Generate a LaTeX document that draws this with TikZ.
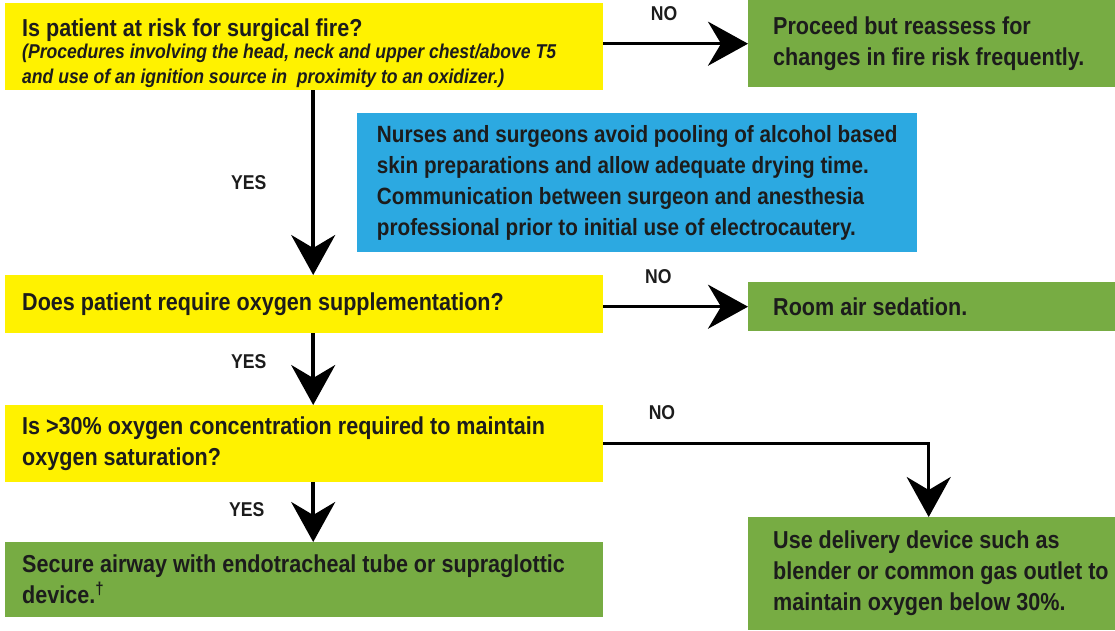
\documentclass[tikz,border=0pt]{standalone}
\usepackage{fontspec}
\setmainfont[FakeStretch=0.88]{Liberation Sans}
\usepackage{xcolor}
\usetikzlibrary{positioning}
\usetikzlibrary{arrows.meta}
\definecolor{askyellow}{HTML}{FFF200}
\definecolor{actgreen}{HTML}{77AC43}
\definecolor{noteblue}{HTML}{2CA9E1}
\definecolor{ink}{HTML}{1C1C1C}
\newcommand{\boxfont}{\fontsize{24.5}{31}\selectfont\bfseries}
\newcommand{\notefont}{\fontsize{20}{25.5}\selectfont\bfseries\itshape}
\newcommand{\bluefont}{\fontsize{23.5}{31}\selectfont\bfseries}
\newcommand{\lblfont}{\fontsize{20}{23}\selectfont\bfseries}
\tikzset{
  % Plain word spacing inside all boxes
  tight/.style={execute at begin node={\spaceskip=0pt\xspaceskip=0pt}},
  % A yes/no question
  question/.style={
    fill=askyellow, rectangle, anchor=north west, align=left, text=ink, tight,
    font=\boxfont, inner xsep=17pt, inner ysep=0pt, text width=#1},
  % An action to take
  action/.style={
    fill=actgreen, rectangle, anchor=north west, align=left, text=ink, tight,
    font=\boxfont, inner xsep=17pt, inner ysep=0pt, text width=#1},
  % A side note (its lines are broken by hand)
  note/.style={
    fill=noteblue, rectangle, anchor=north west, align=left, text=ink,
    font=\bluefont, inner xsep=16pt, inner ysep=0pt, minimum width=#1},
  % Connectors
  flow/.style={-{Stealth[length=40pt, width=44pt, inset=13pt]},
    draw=black, line width=3.5pt},
  lbl/.style={font=\lblfont, text=ink, inner sep=1pt},
}

\begin{document}
\begin{tikzpicture}[x=1pt, y=1pt]
  \useasboundingbox (0,0) rectangle (1115,-630);

  % --- Questions -------------------------------------------------------
  \node[question=564pt, minimum height=87pt] (risk) at (5,-3)
    {\rule{0pt}{31pt}Is patient at risk for surgical fire?\par\vskip-4pt
     {\notefont (Procedures involving the head, neck and upper chest/above T5\\
      and use of an ignition source in\ \ proximity to an oxidizer.)\par}};
  \node[question=564pt, minimum height=58pt] (oxy) at (5,-275)
    {Does patient require oxygen supplementation?};
  \node[question=564pt, minimum height=77pt] (conc) at (5,-405)
    {Is >30\% oxygen concentration required to maintain\\
     oxygen saturation?};

  % --- Actions ---------------------------------------------------------
  \node[action=317pt, inner xsep=25pt, minimum height=87pt] (proceed) at (748,0)
    {Proceed but reassess for\\ changes in fire risk frequently.};
  \node[action=317pt, inner xsep=25pt, minimum height=49pt] (roomair) at (748,-282)
    {Room air sedation.};
  \node[action=564pt, minimum height=75pt] (airway) at (5,-542)
    {Secure airway with endotracheal tube or supraglottic\\
     device.\textsuperscript{\dag}};
  \node[action=317pt, inner xsep=25pt, minimum height=113pt] (device) at (748,-517)
    {Use delivery device such as\\ \mbox{blender or common gas outlet to}\\
     maintain oxygen below 30\%.};

  % --- Note --------------------------------------------------------------
  \node[note=560pt, minimum height=139pt] (prep) at (357,-113)
    {Nurses and surgeons avoid pooling of alcohol based\\
     skin preparations and allow adequate drying time.\\
     Communication between surgeon and anesthesia\\
     professional prior to initial use of electrocautery.};

  % --- Decisions ---------------------------------------------------------
  \draw[flow] (risk.east |- proceed.west) -- node[lbl, pos=0.42, above=20pt] {NO}
    (proceed.west);
  \draw[flow] ([xshift=9pt]risk.south) -- node[lbl, midway, left=44pt] {YES}
    ([xshift=9pt]oxy.north);
  \draw[flow] (oxy.east |- roomair.west) -- node[lbl, pos=0.38, above=20pt] {NO}
    (roomair.west);
  \draw[flow] ([xshift=9pt]oxy.south) -- node[lbl, pos=0.4, left=44pt] {YES}
    ([xshift=9pt]conc.north);
  \draw[flow] ([xshift=9pt]conc.south) -- node[lbl, pos=0.45, left=46pt] {YES}
    ([xshift=9pt]airway.north);
  \draw[flow] (conc.east) -| node[lbl, pos=0.09, above=21pt] {NO}
    ([xshift=-3pt]device.north);

\end{tikzpicture}
\end{document}
